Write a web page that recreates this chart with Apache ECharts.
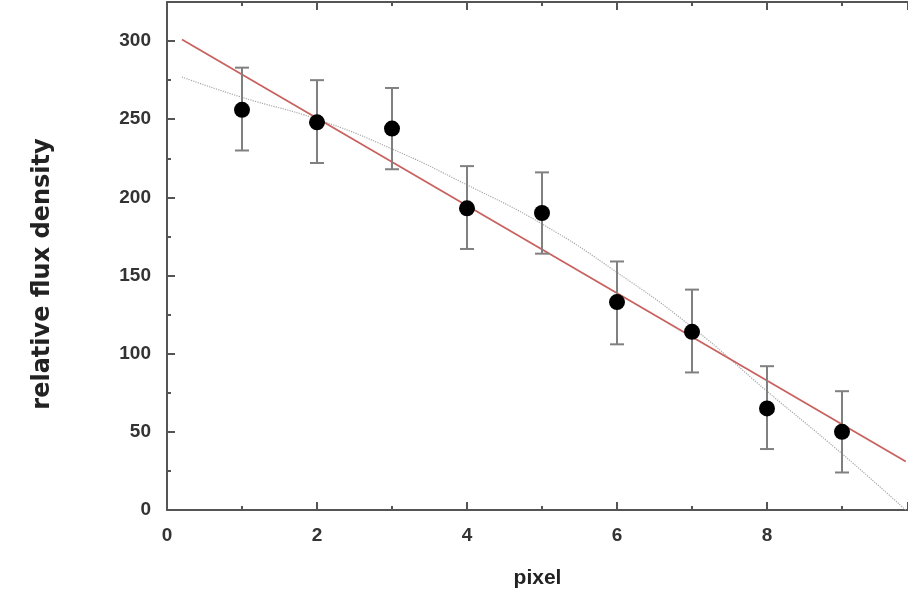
<!DOCTYPE html>
<html>
<head>
<meta charset="utf-8">
<script src="https://cdn.jsdelivr.net/npm/echarts@6/dist/echarts.min.js"></script>
<style>
  html, body { margin: 0; padding: 0; background: #fff; }
  #main { width: 908px; height: 594px; }
</style>
</head>
<body>
<div id="main"></div>
<script>
// measured points with error bars
const pixels = [1, 2, 3, 4, 5, 6, 7, 8, 9];
const flux = [256, 248, 244, 193, 190, 133, 114, 65, 50];
const fluxHigh = [283, 275, 270, 220, 216, 159, 141, 92, 76];
const fluxLow = [230, 222, 218, 167, 164, 106, 88, 39, 24];

// red straight fit (end points)
const fitX = [0.2, 9.85];
const fitY = [301, 31];

// grey dotted curve, read at a few x positions
const curveX = [0.2, 1, 2, 3, 4, 5, 6, 7, 8, 9, 9.85];
const curveY = [277, 264, 250, 231, 208, 183, 152, 117, 76, 36, 0];

const font = 'Liberation Sans, Arial, sans-serif';
const axisCol = '#555';

let myChart = echarts.init(document.getElementById('main'));

let pts = pixels.map((x, i) => [x, flux[i]]);
let bars = pixels.map((x, i) => [x, fluxLow[i], fluxHigh[i]]);
let fit = fitX.map((x, i) => [x, fitY[i]]);
let curve = curveX.map((x, i) => [x, curveY[i]]);

let tickAxis = {
    type: 'value',
    min: 0,
    max: 9.88,
    interval: 2,
    axisLine: { show: true, lineStyle: { color: axisCol, width: 2 } },
    axisTick: { show: true, inside: true, length: 8, lineStyle: { color: axisCol, width: 2 } },
    minorTick: { show: true, splitNumber: 2, length: 4, lineStyle: { color: axisCol, width: 2 } },
    splitLine: { show: false }
};

myChart.setOption({
    backgroundColor: '#fff',
    animation: false,
    grid: { left: 167, right: 0, top: 2, bottom: 82, containLabel: false },
    xAxis: [
        Object.assign({}, tickAxis, {
            position: 'bottom',
            name: 'pixel',
            nameLocation: 'middle',
            nameGap: 58,
            nameTextStyle: { fontFamily: font, fontWeight: 'bold', fontSize: 21, color: '#222' },
            axisLabel: { show: true, margin: 16, showMaxLabel: false, fontFamily: font, fontWeight: 'bold', fontSize: 19, color: '#333' }
        }),
        Object.assign({}, tickAxis, {
            position: 'top',
            axisLabel: { show: false }
        })
    ],
    yAxis: {
        type: 'value',
        min: 0,
        max: 325,
        interval: 50,
        name: 'relative flux density',
        nameLocation: 'middle',
        nameGap: 112,
        nameTextStyle: { fontFamily: 'DejaVu Sans', fontWeight: 'bold', fontSize: 24, color: '#222', padding: [0, 36, 0, 0] },
        axisLine: { show: true, lineStyle: { color: axisCol, width: 2 } },
        axisTick: { show: true, inside: true, length: 8, lineStyle: { color: axisCol, width: 2 } },
        minorTick: { show: true, splitNumber: 2, length: 4, lineStyle: { color: axisCol, width: 2 } },
        splitLine: { show: false },
        axisLabel: { margin: 16, showMaxLabel: false, fontFamily: font, fontWeight: 'bold', fontSize: 19, color: '#333' }
    },
    series: [{
        name: 'curve',
        type: 'line',
        data: curve,
        smooth: true,
        symbol: 'none',
        lineStyle: { color: '#a8a8a8', width: 1.2, type: 'dotted' },
        z: 2
    }, {
        name: 'fit',
        type: 'line',
        data: fit,
        symbol: 'none',
        lineStyle: { color: '#c9625f', width: 1.8 },
        z: 3
    }, {
        name: 'errors',
        type: 'custom',
        data: bars,
        z: 4,
        renderItem: function (params, api) {
            let x = api.value(0);
            let lo = api.coord([x, api.value(1)]);
            let hi = api.coord([x, api.value(2)]);
            let w = 7;
            let style = { stroke: '#808080', lineWidth: 2 };
            return {
                type: 'group',
                children: [
                    { type: 'line', shape: { x1: lo[0], y1: lo[1], x2: hi[0], y2: hi[1] }, style: style },
                    { type: 'line', shape: { x1: lo[0] - w, y1: lo[1], x2: lo[0] + w, y2: lo[1] }, style: style },
                    { type: 'line', shape: { x1: hi[0] - w, y1: hi[1], x2: hi[0] + w, y2: hi[1] }, style: style }
                ]
            };
        }
    }, {
        name: 'flux',
        type: 'scatter',
        data: pts,
        symbol: 'circle',
        symbolSize: 16,
        itemStyle: { color: '#000', opacity: 1 },
        z: 5
    }]
});
</script>
</body>
</html>
